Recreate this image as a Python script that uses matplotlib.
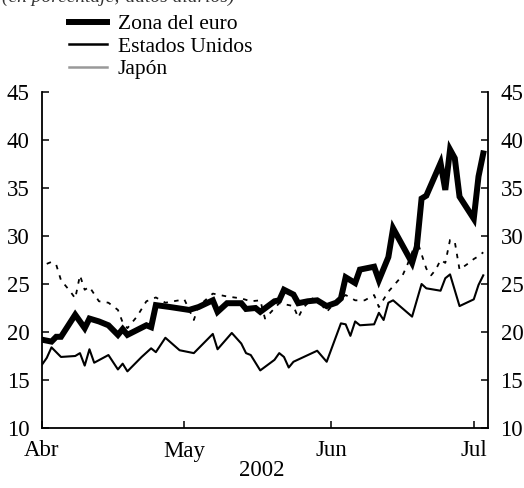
import matplotlib
matplotlib.use("Agg")
import matplotlib.pyplot as plt
from matplotlib.lines import Line2D
import pandas as pd

plt.rcParams['font.family'] = ['Liberation Serif', 'DejaVu Serif']

# ---- data ----
euro_dates = ["2002-04-01", "2002-04-03", "2002-04-04", "2002-04-05", "2002-04-08", "2002-04-10",
              "2002-04-11", "2002-04-13", "2002-04-15", "2002-04-17", "2002-04-18", "2002-04-19",
              "2002-04-21", "2002-04-23", "2002-04-24", "2002-04-25", "2002-04-28", "2002-05-02",
              "2002-05-04", "2002-05-07", "2002-05-08", "2002-05-10", "2002-05-13", "2002-05-14",
              "2002-05-16", "2002-05-17", "2002-05-20", "2002-05-21", "2002-05-22", "2002-05-24",
              "2002-05-25", "2002-05-27", "2002-05-29", "2002-05-30", "2002-05-31", "2002-06-02",
              "2002-06-03", "2002-06-04", "2002-06-06", "2002-06-07", "2002-06-10", "2002-06-11",
              "2002-06-13", "2002-06-14", "2002-06-18", "2002-06-19", "2002-06-20", "2002-06-21",
              "2002-06-24", "2002-06-25", "2002-06-26", "2002-06-27", "2002-06-28", "2002-07-01",
              "2002-07-02", "2002-07-03"]
euro_vals = [19.2, 19.0, 19.5, 19.5, 21.8, 20.4,
             21.4, 21.1, 20.7, 19.7, 20.3, 19.7,
             20.2, 20.7, 20.5, 22.8, 22.6, 22.3,
             22.6, 23.3, 22.1, 23.0, 23.0, 22.4,
             22.5, 22.1, 23.2, 23.3, 24.4, 23.9,
             23.0, 23.2, 23.3, 23.0, 22.7, 23.05,
             23.5, 25.7, 25.1, 26.5, 26.8, 25.4,
             27.8, 30.8, 27.2, 28.9, 33.9, 34.2,
             37.6, 34.8, 39.0, 38.1, 34.1, 31.8,
             36.2, 38.6]

us_dates = ["2002-04-01", "2002-04-02", "2002-04-03", "2002-04-05", "2002-04-08", "2002-04-09",
            "2002-04-10", "2002-04-11", "2002-04-12", "2002-04-15", "2002-04-17", "2002-04-18",
            "2002-04-19", "2002-04-22", "2002-04-24", "2002-04-25", "2002-04-27", "2002-04-30",
            "2002-05-03", "2002-05-07", "2002-05-08", "2002-05-11", "2002-05-13", "2002-05-14",
            "2002-05-15", "2002-05-17", "2002-05-20", "2002-05-21", "2002-05-22", "2002-05-23",
            "2002-05-24", "2002-05-29", "2002-05-31", "2002-06-03", "2002-06-04", "2002-06-05",
            "2002-06-06", "2002-06-07", "2002-06-10", "2002-06-11", "2002-06-12", "2002-06-13",
            "2002-06-14", "2002-06-18", "2002-06-20", "2002-06-21", "2002-06-24", "2002-06-25",
            "2002-06-26", "2002-06-28", "2002-07-01", "2002-07-02", "2002-07-03"]
us_vals = [16.6, 17.3, 18.4, 17.4, 17.5, 17.8,
           16.5, 18.2, 16.8, 17.6, 16.1, 16.7,
           15.9, 17.4, 18.3, 17.9, 19.4, 18.1,
           17.8, 19.8, 18.2, 19.9, 18.8, 17.8,
           17.6, 16.0, 17.1, 17.8, 17.4, 16.3,
           16.9, 18.05, 16.9, 20.9, 20.8, 19.6,
           21.1, 20.7, 20.8, 22.0, 21.25, 23.05,
           23.3, 21.6, 25.0, 24.55, 24.3, 25.6,
           26.0, 22.7, 23.4, 24.9, 25.9]

jp_dates = ["2002-04-02", "2002-04-03", "2002-04-04", "2002-04-05", "2002-04-07", "2002-04-08",
            "2002-04-09", "2002-04-10", "2002-04-11", "2002-04-13", "2002-04-15", "2002-04-17",
            "2002-04-18", "2002-04-19", "2002-04-21", "2002-04-23", "2002-04-24", "2002-04-25",
            "2002-04-27", "2002-05-01", "2002-05-03", "2002-05-04", "2002-05-07", "2002-05-10",
            "2002-05-13", "2002-05-15", "2002-05-17", "2002-05-18", "2002-05-21", "2002-05-24",
            "2002-05-25", "2002-05-26", "2002-05-28", "2002-05-30", "2002-05-31", "2002-06-02",
            "2002-06-04", "2002-06-06", "2002-06-08", "2002-06-10", "2002-06-11", "2002-06-13",
            "2002-06-16", "2002-06-17", "2002-06-19", "2002-06-21", "2002-06-22", "2002-06-23",
            "2002-06-24", "2002-06-25", "2002-06-26", "2002-06-27", "2002-06-28", "2002-06-30",
            "2002-07-01", "2002-07-02", "2002-07-03"]
jp_vals = [27.1, 27.3, 27.0, 25.4, 24.2, 23.5,
           25.9, 24.4, 24.7, 23.2, 23.05, 22.3,
           21.0, 20.4, 21.6, 23.2, 23.4, 23.6,
           23.05, 23.4, 21.25, 22.7, 24.0, 23.7,
           23.5, 23.2, 23.3, 21.4, 23.0, 22.7,
           21.5, 22.5, 23.5, 22.8, 22.1, 23.2,
           23.85, 23.3, 23.3, 23.85, 22.6, 24.2,
           25.9, 27.0, 29.6, 26.6, 25.9, 26.5,
           27.5, 27.2, 29.6, 29.4, 26.5, 27.2,
           27.6, 27.9, 28.3]

series_labels = ["Zona del euro", "Estados Unidos", "Japón"]
month_ticks = ["2002-04-01", "2002-05-01", "2002-06-01", "2002-07-01"]
month_labels = ["Abr", "May", "Jun", "Jul"]
y_ticks = [10, 15, 20, 25, 30, 35, 40, 45]

FS = 15.5
TFS = 16.5

# ---- figure ----
fig = plt.figure(figsize=(5.24, 4.88), dpi=100)
W, H = 524, 488
left, right, top, bottom = 42, 488, 92, 428
ax = fig.add_axes([left / W, 1 - bottom / H, (right - left) / W, (bottom - top) / H])

ax.plot(pd.to_datetime(jp_dates), jp_vals, color='black', lw=1.3,
        linestyle=(0, (2.5, 3.5)), zorder=2)
ax.plot(pd.to_datetime(us_dates), us_vals, color='black', lw=1.5, zorder=3)
ax.plot(pd.to_datetime(euro_dates), euro_vals, color='black', lw=4.3,
        solid_joinstyle='miter', zorder=4)

ax.set_xlim(pd.Timestamp("2002-04-01"), pd.Timestamp("2002-07-04"))
ax.set_ylim(10, 45)

ax.spines['top'].set_visible(False)
for s in ['left', 'right', 'bottom']:
    ax.spines[s].set_linewidth(1.3)

ax.set_yticks(y_ticks)
ax.tick_params(axis='y', direction='in', length=5, width=1.1, labelsize=TFS,
               left=True, right=True, labelleft=True, labelright=True, pad=9)
ax.set_xticks(pd.to_datetime(month_ticks))
ax.set_xticklabels(month_labels)
ax.tick_params(axis='x', direction='in', length=5, width=1.1, labelsize=TFS, pad=9)

fig.text(262 / W, 1 - 471 / H, "2002", ha='center', va='center', fontsize=TFS)

# legend (manual handles)
handles = [Line2D([], [], color='black', lw=4.3),
           Line2D([], [], color='black', lw=1.8),
           Line2D([], [], color='#999999', lw=1.8)]
fig.legend(handles, series_labels, loc='upper left',
           bbox_to_anchor=(54 / W, 1 + 1 / H), frameon=False, fontsize=FS,
           handlelength=1.75, handletextpad=0.5, labelspacing=0.12, borderpad=0.2)

# cut-off subtitle at the very top
fig.text(2 / W, 1 - 2 / H, "(en porcentaje; datos diarios)", fontsize=14,
         style='italic', ha='left', va='baseline', color='#333333')

fig.savefig("out.png", dpi=100)
